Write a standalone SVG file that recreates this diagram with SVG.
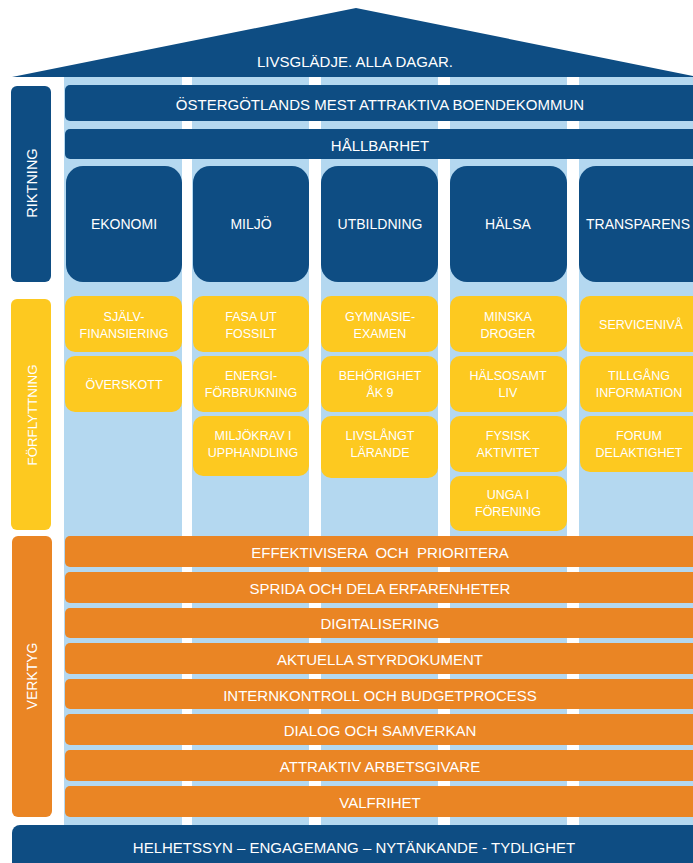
<svg xmlns="http://www.w3.org/2000/svg" width="693" height="863" viewBox="0 0 693 863">
<style>
text{font-family:"Liberation Sans",Arial,sans-serif;fill:#ffffff;text-anchor:middle;dominant-baseline:central}
.db{fill:#0e4d83}
.lb{fill:#b4d8f0}
.ye{fill:#fdc920}
.or{fill:#ea8524}
.t15{font-size:15px}
.t14{font-size:14px}
.t12{font-size:12.5px}
</style>
<rect width="693" height="863" fill="#ffffff"/>
<g id="columns">
<rect class="lb" x="64" y="77" width="118" height="748"/>
<rect class="lb" x="192" y="77" width="117" height="748"/>
<rect class="lb" x="321" y="77" width="117" height="748"/>
<rect class="lb" x="450" y="77" width="117" height="748"/>
<rect class="lb" x="579" y="77" width="114" height="748"/>
</g>
<g id="roof">
<polygon class="db" points="12,77 356,8 693,76 693,77"/>
<text class="t15" x="355" y="61">LIVSGLÄDJE. ALLA DAGAR.</text>
</g>
<g id="vision">
<rect class="db" x="65" y="85" width="640" height="36" rx="5"/>
<text class="t15" x="380" y="104">ÖSTERGÖTLANDS MEST ATTRAKTIVA BOENDEKOMMUN</text>
</g>
<g id="hallbarhet">
<rect class="db" x="65" y="129" width="640" height="30" rx="5"/>
<text class="t15" x="380" y="145">HÅLLBARHET</text>
</g>
<g id="riktning">
<rect class="db" x="11" y="86" width="40" height="196" rx="6"/>
<text style="font-size:14.5px" transform="translate(32,183) rotate(-90)">RIKTNING</text>
</g>
<g id="forflyttning">
<rect class="ye" x="11" y="299" width="40" height="231" rx="6"/>
<text style="font-size:13.3px" transform="translate(32,415) rotate(-90)">FÖRFLYTTNING</text>
</g>
<g id="verktyg">
<rect class="or" x="12" y="536" width="40" height="281" rx="6"/>
<text style="font-size:14px" transform="translate(32,676) rotate(-90)">VERKTYG</text>
</g>
<g id="ekonomi">
<rect class="db" x="66" y="166" width="116" height="116" rx="17"/>
<text class="t14" x="124" y="224">EKONOMI</text>
</g>
<g id="miljo">
<rect class="db" x="193" y="166" width="116" height="116" rx="17"/>
<text class="t14" x="251" y="224">MILJÖ</text>
</g>
<g id="utbildning">
<rect class="db" x="321" y="166" width="117" height="116" rx="17"/>
<text class="t14" x="380" y="224">UTBILDNING</text>
</g>
<g id="halsa">
<rect class="db" x="450" y="166" width="117" height="116" rx="17"/>
<text class="t14" x="508" y="224">HÄLSA</text>
</g>
<g id="transparens">
<rect class="db" x="579" y="166" width="130" height="116" rx="17"/>
<text class="t14" x="638" y="224">TRANSPARENS</text>
</g>
<g id="sjalvfinansiering">
<rect class="ye" x="65" y="296" width="117" height="56" rx="10"/>
<text class="t12" x="124" y="317">SJÄLV-</text>
<text class="t12" x="124" y="334">FINANSIERING</text>
</g>
<g id="overskott">
<rect class="ye" x="65" y="356" width="117" height="56" rx="10"/>
<text class="t12" x="124" y="385">ÖVERSKOTT</text>
</g>
<g id="fasa">
<rect class="ye" x="193" y="296" width="116" height="56" rx="10"/>
<text class="t12" x="251" y="317">FASA UT</text>
<text class="t12" x="251" y="334">FOSSILT</text>
</g>
<g id="energi">
<rect class="ye" x="193" y="356" width="116" height="56" rx="10"/>
<text class="t12" x="251" y="376">ENERGI-</text>
<text class="t12" x="251" y="393">FÖRBRUKNING</text>
</g>
<g id="miljokrav">
<rect class="ye" x="193" y="416" width="116" height="60" rx="10"/>
<text class="t12" x="253" y="436">MILJÖKRAV I</text>
<text class="t12" x="253" y="453">UPPHANDLING</text>
</g>
<g id="gymnasie">
<rect class="ye" x="321" y="296" width="117" height="56" rx="10"/>
<text class="t12" x="380" y="317">GYMNASIE-</text>
<text class="t12" x="380" y="334">EXAMEN</text>
</g>
<g id="behorighet">
<rect class="ye" x="321" y="356" width="117" height="56" rx="10"/>
<text class="t12" x="380" y="376">BEHÖRIGHET</text>
<text class="t12" x="380" y="393">ÅK 9</text>
</g>
<g id="livslangt">
<rect class="ye" x="321" y="416" width="117" height="62" rx="10"/>
<text class="t12" x="380" y="436">LIVSLÅNGT</text>
<text class="t12" x="380" y="453">LÄRANDE</text>
</g>
<g id="minska">
<rect class="ye" x="450" y="296" width="117" height="56" rx="10"/>
<text class="t12" x="508" y="317">MINSKA</text>
<text class="t12" x="508" y="334">DROGER</text>
</g>
<g id="halsosamt">
<rect class="ye" x="450" y="356" width="117" height="56" rx="10"/>
<text class="t12" x="508" y="376">HÄLSOSAMT</text>
<text class="t12" x="508" y="393">LIV</text>
</g>
<g id="fysisk">
<rect class="ye" x="450" y="416" width="117" height="56" rx="10"/>
<text class="t12" x="508" y="436">FYSISK</text>
<text class="t12" x="508" y="453">AKTIVITET</text>
</g>
<g id="unga">
<rect class="ye" x="450" y="476" width="117" height="55" rx="10"/>
<text class="t12" x="508" y="495">UNGA I</text>
<text class="t12" x="508" y="512">FÖRENING</text>
</g>
<g id="serviceniva">
<rect class="ye" x="580" y="296" width="125" height="56" rx="10"/>
<text class="t12" x="641" y="325">SERVICENIVÅ</text>
</g>
<g id="tillgang">
<rect class="ye" x="580" y="356" width="125" height="56" rx="10"/>
<text class="t12" x="639" y="376">TILLGÅNG</text>
<text class="t12" x="639" y="393">INFORMATION</text>
</g>
<g id="forum">
<rect class="ye" x="580" y="416" width="125" height="56" rx="10"/>
<text class="t12" x="639" y="436">FORUM</text>
<text class="t12" x="639" y="453">DELAKTIGHET</text>
</g>
<g id="effektivisera">
<rect class="or" x="65" y="536" width="640" height="31" rx="5"/>
<text class="t15" x="380" y="552" xml:space="preserve" style="white-space:pre">EFFEKTIVISERA  OCH  PRIORITERA</text>
</g>
<g id="sprida">
<rect class="or" x="65" y="572" width="640" height="31" rx="5"/>
<text class="t15" x="380" y="588">SPRIDA OCH DELA ERFARENHETER</text>
</g>
<g id="digitalisering">
<rect class="or" x="65" y="608" width="640" height="30" rx="5"/>
<text class="t15" x="380" y="623">DIGITALISERING</text>
</g>
<g id="aktuella">
<rect class="or" x="65" y="643" width="640" height="31" rx="5"/>
<text class="t15" x="380" y="659">AKTUELLA STYRDOKUMENT</text>
</g>
<g id="internkontroll">
<rect class="or" x="65" y="679" width="640" height="30" rx="5"/>
<text class="t15" x="380" y="695">INTERNKONTROLL OCH BUDGETPROCESS</text>
</g>
<g id="dialog">
<rect class="or" x="65" y="714" width="640" height="31" rx="5"/>
<text class="t15" x="380" y="730">DIALOG OCH SAMVERKAN</text>
</g>
<g id="attraktiv">
<rect class="or" x="65" y="750" width="640" height="31" rx="5"/>
<text class="t15" x="380" y="766">ATTRAKTIV ARBETSGIVARE</text>
</g>
<g id="valfrihet">
<rect class="or" x="65" y="786" width="640" height="31" rx="5"/>
<text class="t15" x="380" y="802">VALFRIHET</text>
</g>
<g id="grund">
<rect class="db" x="12" y="825" width="700" height="50" rx="8"/>
<text class="t15" x="354" y="847">HELHETSSYN – ENGAGEMANG – NYTÄNKANDE - TYDLIGHET</text>
</g>
</svg>
